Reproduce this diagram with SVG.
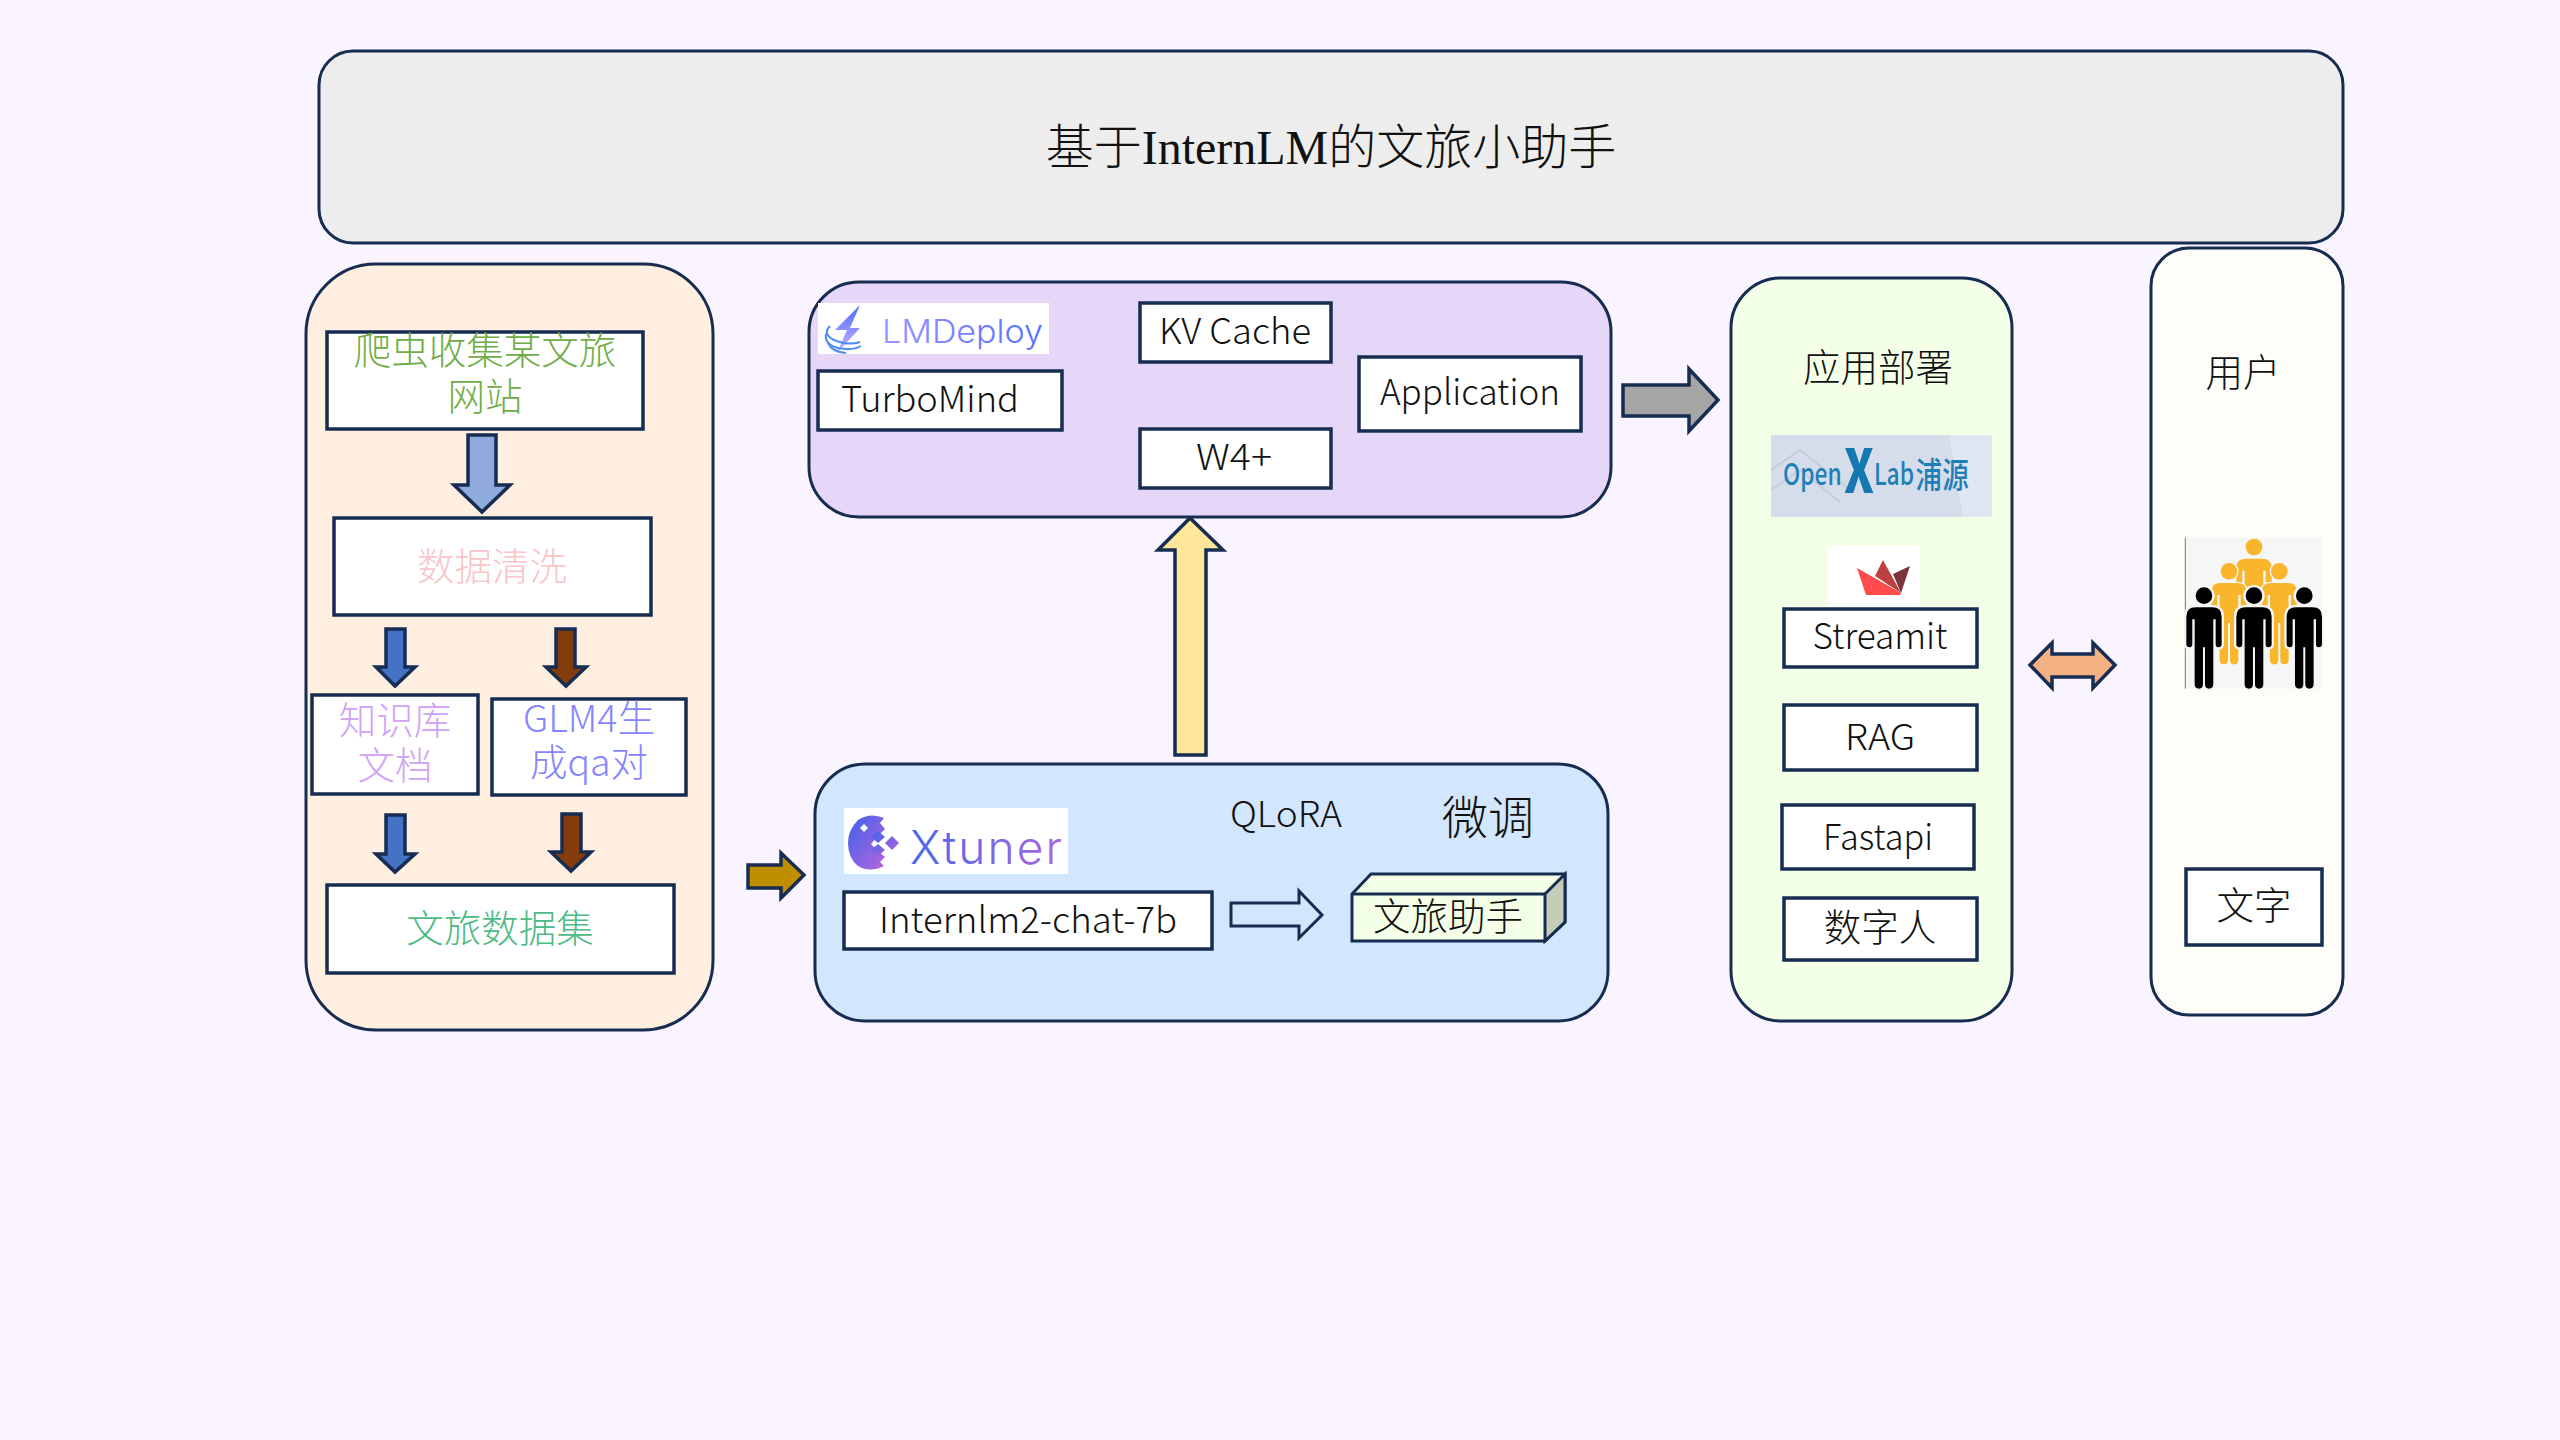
<svg xmlns="http://www.w3.org/2000/svg" width="2560" height="1440" viewBox="0 0 2560 1440">
<style>
.p{stroke:#172C51;stroke-width:3}
.b{fill:#fff;stroke:#172C51;stroke-width:3.5}
.a{stroke:#172C51;stroke-width:3.5;stroke-linejoin:miter}
text{font-family:"Noto Sans CJK SC","Noto Sans",sans-serif;font-size:36px;text-anchor:middle;fill:#111;font-weight:300}
.c{font-size:37.5px}
</style>
<defs>
<linearGradient id="xt" x1="0" y1="0" x2="1" y2="1"><stop offset="0" stop-color="#3F62E8"/><stop offset="1" stop-color="#B565E0"/></linearGradient>
<linearGradient id="xtt" gradientUnits="userSpaceOnUse" x1="910" y1="0" x2="1060" y2="0"><stop offset="0" stop-color="#4A68EA"/><stop offset="1" stop-color="#A766E0"/></linearGradient>
<linearGradient id="lm" x1="0" y1="0" x2="0" y2="1"><stop offset="0" stop-color="#4D6BFA"/><stop offset="1" stop-color="#C9B6FF"/></linearGradient>
<linearGradient id="lmt" gradientUnits="userSpaceOnUse" x1="882" y1="0" x2="1043" y2="0"><stop offset="0" stop-color="#9A94FF"/><stop offset="1" stop-color="#5470FF"/></linearGradient>
<path id="person" d="M-25,322H25Q53,322 53,350V432Q53,442 43,442Q35,442 35,432V358H28V552Q28,566 15,566Q3,566 3,552V442H-3V552Q-3,566 -15,566Q-28,566 -28,552V358H-35V432Q-35,442 -43,442Q-53,442 -53,432V350Q-53,322 -25,322Z"/>
<g id="pb"><circle cx="0" cy="287" r="25"/><use href="#person"/></g>
</defs>
<rect width="2560" height="1440" fill="#F9F4FF"/>
<g id="title"><rect class="p" x="319" y="51" width="2024" height="192" rx="34" fill="#EDEDED"/>
<text x="1331" y="164" style="font-size:48px;font-family:'Liberation Serif','Noto Sans CJK SC',serif">基于InternLM的文旅小助手</text></g>

<g id="panel-data"><rect class="p" x="306" y="264" width="407" height="766" rx="70" fill="#FFEFE0"/></g>
<g id="n-crawl"><rect class="b" x="327" y="332" width="316" height="97"/>
<text class="c" x="485" y="364" style="fill:#70AD47">爬虫收集某文旅<tspan x="485" dy="46">网站</tspan></text></g>
<g id="n-clean"><rect class="b" x="334" y="518" width="317" height="97"/><text class="c" x="492" y="580" style="fill:#F8C6C6">数据清洗</text></g>
<g id="n-kb"><rect class="b" x="312" y="695" width="166" height="99"/><text class="c" x="395" y="734" style="fill:#D0A2F7">知识库<tspan x="395" dy="45">文档</tspan></text></g>
<g id="n-glm"><rect class="b" x="492" y="699" width="194" height="96"/><text class="c" x="589" y="732" style="fill:#8585FF">GLM4生<tspan x="589" dy="44">成qa对</tspan></text></g>
<g id="n-set"><rect class="b" x="327" y="885" width="347" height="88"/><text class="c" x="500" y="942" style="fill:#4DBB85">文旅数据集</text></g>

<g id="panel-deploy"><rect class="p" x="809" y="282" width="802" height="235" rx="50" fill="#E6D6F8"/></g>
<g id="logo-lmdeploy"><rect x="818" y="303" width="231" height="51" fill="#fff"/>
<path d="M860,305L835,330H847L837,353L860,328H850Z" fill="url(#lm)"/>
<g fill="none" stroke="#4E8BF5" stroke-width="2"><path d="M830,326Q822,334 834,340Q848,346 860,342"/><path d="M826,334Q824,344 838,348Q852,351 861,346"/><path d="M828,343Q832,352 846,353"/></g>
<text x="962.5" y="343" style="fill:url(#lmt);font-family:Inter,sans-serif;font-size:32px" textLength="161" lengthAdjust="spacingAndGlyphs">LMDeploy</text></g>
<g id="n-turbomind"><rect class="b" x="818" y="371" width="244" height="59"/><text x="930" y="412" textLength="178" lengthAdjust="spacingAndGlyphs">TurboMind</text></g>
<g id="n-kv"><rect class="b" x="1140" y="303" width="191" height="59"/><text x="1235" y="344" textLength="152" lengthAdjust="spacingAndGlyphs">KV Cache</text></g>
<g id="n-w4"><rect class="b" x="1140" y="429" width="191" height="59"/><text x="1234" y="470" textLength="76" lengthAdjust="spacingAndGlyphs">W4+</text></g>
<g id="n-app"><rect class="b" x="1359" y="357" width="222" height="74"/><text x="1470" y="405" textLength="180" lengthAdjust="spacingAndGlyphs">Application</text></g>

<g id="panel-xtuner"><rect class="p" x="815" y="764" width="793" height="257" rx="50" fill="#D2E6FE"/></g>
<g id="logo-xtuner"><rect x="844" y="808" width="224" height="66" fill="#fff"/>
<path d="M884,818Q870,812 858,820Q848,830 848,843Q848,858 858,866Q870,873 884,866L880,862L885,857L878,851L871,844L878,836L885,829L880,823Z" fill="url(#xt)"/>
<path d="M864,824L868,828L864,832L860,828Z" fill="#fff"/>
<path d="M878,831L885,837L878,843L871,837ZM892,836L899,843L892,850L885,843ZM878,844L885,850L878,856L871,850Z" fill="url(#xt)"/>
<text x="986" y="864" style="fill:url(#xtt);font-family:Inter,sans-serif;font-size:46px" textLength="152" lengthAdjust="spacing">Xtuner</text></g>
<g id="n-internlm"><rect class="b" x="844" y="892" width="368" height="57"/><text x="1028" y="933" textLength="298" lengthAdjust="spacingAndGlyphs">Internlm2-chat-7b</text></g>
<g id="n-qlora"><text x="1286" y="827" textLength="112" lengthAdjust="spacingAndGlyphs">QLoRA</text></g>
<g id="n-tune"><text x="1488" y="834" style="font-size:46px">微调</text></g>
<g id="n-assistant"><path class="p" d="M1352,894L1371,874H1565V922L1545,941H1352Z" fill="#F4FFE8"/><path class="p" d="M1545,894L1565,874V922L1545,941Z" fill="#C5CCB8"/><path class="p" d="M1352,894H1545" fill="none"/>
<text class="c" x="1448" y="930">文旅助手</text></g>

<g id="panel-app"><rect class="p" x="1731" y="278" width="281" height="743" rx="50" fill="#F4FFE8"/>
<text class="c" x="1878" y="381">应用部署</text></g>
<g id="logo-openx"><rect x="1771" y="435" width="221" height="82" fill="#D6DDEA"/>
<path d="M1771,470L1800,450L1850,490M1771,490L1800,470L1840,502" fill="none" stroke="#C4CCDC" stroke-width="2"/>
<path d="M1949,435H1992V517H1963Z" fill="#E0E6F2"/>
<text transform="translate(1783,485) scale(.76,1)" style="text-anchor:start;fill:#1E7FB8;font-size:30px;font-weight:500">Open<tspan dx="3" dy="8" style="font-size:60px;font-weight:900;fill:#1678B0">X</tspan><tspan dx="0" dy="-8">Lab</tspan><tspan dx="2" dy="3" style="font-size:35px">浦源</tspan></text></g>
<g id="logo-streamit"><rect x="1828" y="546" width="92" height="61" fill="#fff"/>
<path d="M1875,576L1883,560L1901,593Z" fill="#BD4043"/><path d="M1893,574L1910,566L1901,593Z" fill="#7D353B"/><path d="M1857,568L1901,593L1900,595H1866Z" fill="#FF4B4B"/></g>
<g id="n-streamit"><rect class="b" x="1784" y="609" width="193" height="58"/><text x="1880" y="649" textLength="135" lengthAdjust="spacingAndGlyphs">Streamit</text></g>
<g id="n-rag"><rect class="b" x="1784" y="705" width="193" height="65"/><text x="1880" y="750" textLength="70" lengthAdjust="spacingAndGlyphs">RAG</text></g>
<g id="n-fastapi"><rect class="b" x="1782" y="805" width="192" height="64"/><text x="1878" y="850" textLength="110" lengthAdjust="spacingAndGlyphs">Fastapi</text></g>
<g id="n-human"><rect class="b" x="1784" y="898" width="193" height="62"/><text class="c" x="1880" y="941">数字人</text></g>

<g id="panel-user"><rect class="p" x="2151" y="248" width="192" height="767" rx="38" fill="#FFFDF8"/><text class="c" x="2243" y="386">用户</text></g>
<g id="icon-people" transform="translate(2020,500) scale(.3333)"><rect x="496" y="113" width="410" height="453" fill="#F6F6F6"/><path d="M496,113V566" stroke="#777" stroke-width="3"/>
<g fill="#F9B62C"><use href="#pb" x="702" y="-146"/></g>
<g fill="#F9B62C" stroke="#F6F6F6" stroke-width="8" paint-order="stroke"><use href="#pb" x="627" y="-73"/><use href="#pb" x="778" y="-73"/></g>
<g fill="#000" stroke="#F6F6F6" stroke-width="14" paint-order="stroke"><use href="#pb" x="552"/><use href="#pb" x="702"/><use href="#pb" x="853"/></g></g>
<g id="n-text"><rect class="b" x="2186" y="869" width="136" height="76"/><text class="c" x="2254" y="919">文字</text></g>

<g id="connectors">
<path class="a" fill="#8FAADC" d="M468,435H496V485H510L482,512L454,485H468Z"/>
<path class="a" fill="#4472C4" d="M386,629H405V667H415L395,686L376,667H386Z"/>
<path class="a" fill="#843C0C" d="M556,629H575V667H586L566,686L546,667H556Z"/>
<path class="a" fill="#4472C4" d="M386,815H405V854H415L395,872L376,854H386Z"/>
<path class="a" fill="#843C0C" d="M562,814H581V852H591L571,871L551,852H562Z"/>
<path class="a" fill="#BF8F00" d="M748,865H781V853L804,875L781,898V888H748Z"/>
<path class="a" fill="#FFE699" d="M1175,755V550H1158L1190,518L1223,550H1206V755Z"/>
<path class="a" fill="#A5A5A5" d="M1623,385H1689V369L1718,400L1689,431V416H1623Z"/>
<path class="p" fill="#D2E6FE" d="M1231,903H1299V891L1322,915L1299,938V926H1231Z"/>
<path class="a" fill="#F4B183" d="M2030,665L2052,643V654H2093V643L2115,665L2093,688V677H2052V688Z"/>
</g>
</svg>
